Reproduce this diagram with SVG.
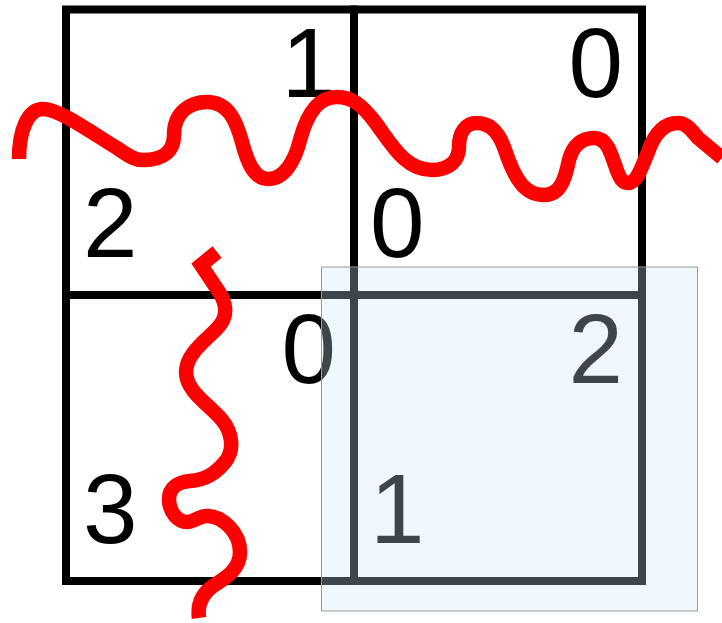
<svg xmlns="http://www.w3.org/2000/svg" width="722" height="623" viewBox="0 0 722 623">
<style>
.cell{fill:none;stroke:#000;stroke-width:8}
.num{font-family:"Liberation Sans",Arial,sans-serif;font-size:98px;fill:#000}
.r{text-anchor:end}
.wave{fill:none;stroke:#ff0000;stroke-width:14.5;stroke-linejoin:miter}
</style>
<rect width="722" height="623" fill="#fff"/>
<g id="cell-tl"><rect class="cell" x="66" y="9.5" width="288" height="285.5"/><text class="num r" x="336" y="97">1</text><text class="num" x="83" y="257">2</text></g>
<g id="cell-tr"><rect class="cell" x="354" y="9.5" width="288" height="285.5"/><text class="num r" x="623" y="97">0</text><text class="num" x="370" y="257">0</text></g>
<g id="cell-bl"><rect class="cell" x="66" y="295" width="288" height="286"/><text class="num r" x="336" y="383">0</text><text class="num" x="83" y="543">3</text></g>
<g id="cell-br"><rect class="cell" x="354" y="295" width="288" height="286"/><text class="num r" x="623" y="383">2</text><text class="num" x="370" y="543">1</text></g>
<g id="connectors">
<path class="wave" d="M19,159 C19,130 28,109 43,109 C60,109 95,135 117,148 C130,157 135,160 143,160 C165,160 174,150 174,135 C174,112 190,102 207,102 C228,102 236,120 242,142 C248,165 255,179 268,179 C285,179 295,160 300,140 C308,110 320,97 337,97 C352,97 362,105 375,122 C392,145 405,170 432,170 C450,170 459,160 459,147 C459,132 466,123 477,123 C492,123 500,135 505,150 C515,180 525,195 544,195 C560,195 565,180 569,160 C573,145 582,138 594,138 C606,138 610,150 615,165 C620,180 623,183 628,183 C636,183 641,170 648,152 C655,132 665,123 678,123 C685,123 690,128 698,138 L722,158"/>
<path class="wave" d="M217,252 L201,265 L219,292 C226,303 228,315 220,325 C210,338 186,352 186,372 C186,392 210,405 222,420 C232,432 235,450 225,462 C215,474 205,480 190,481 C178,482 169,488 169,499 C169,512 178,522 187,522 C195,522 198,516 207,516 C222,516 240,532 240,552 C240,570 225,578 213,586 C203,593 197,603 199,618"/>
</g>
<rect id="highlight" x="321.5" y="267" width="376" height="344" fill="#cce4f8" fill-opacity="0.3" stroke="#999" stroke-width="1"/>
</svg>
